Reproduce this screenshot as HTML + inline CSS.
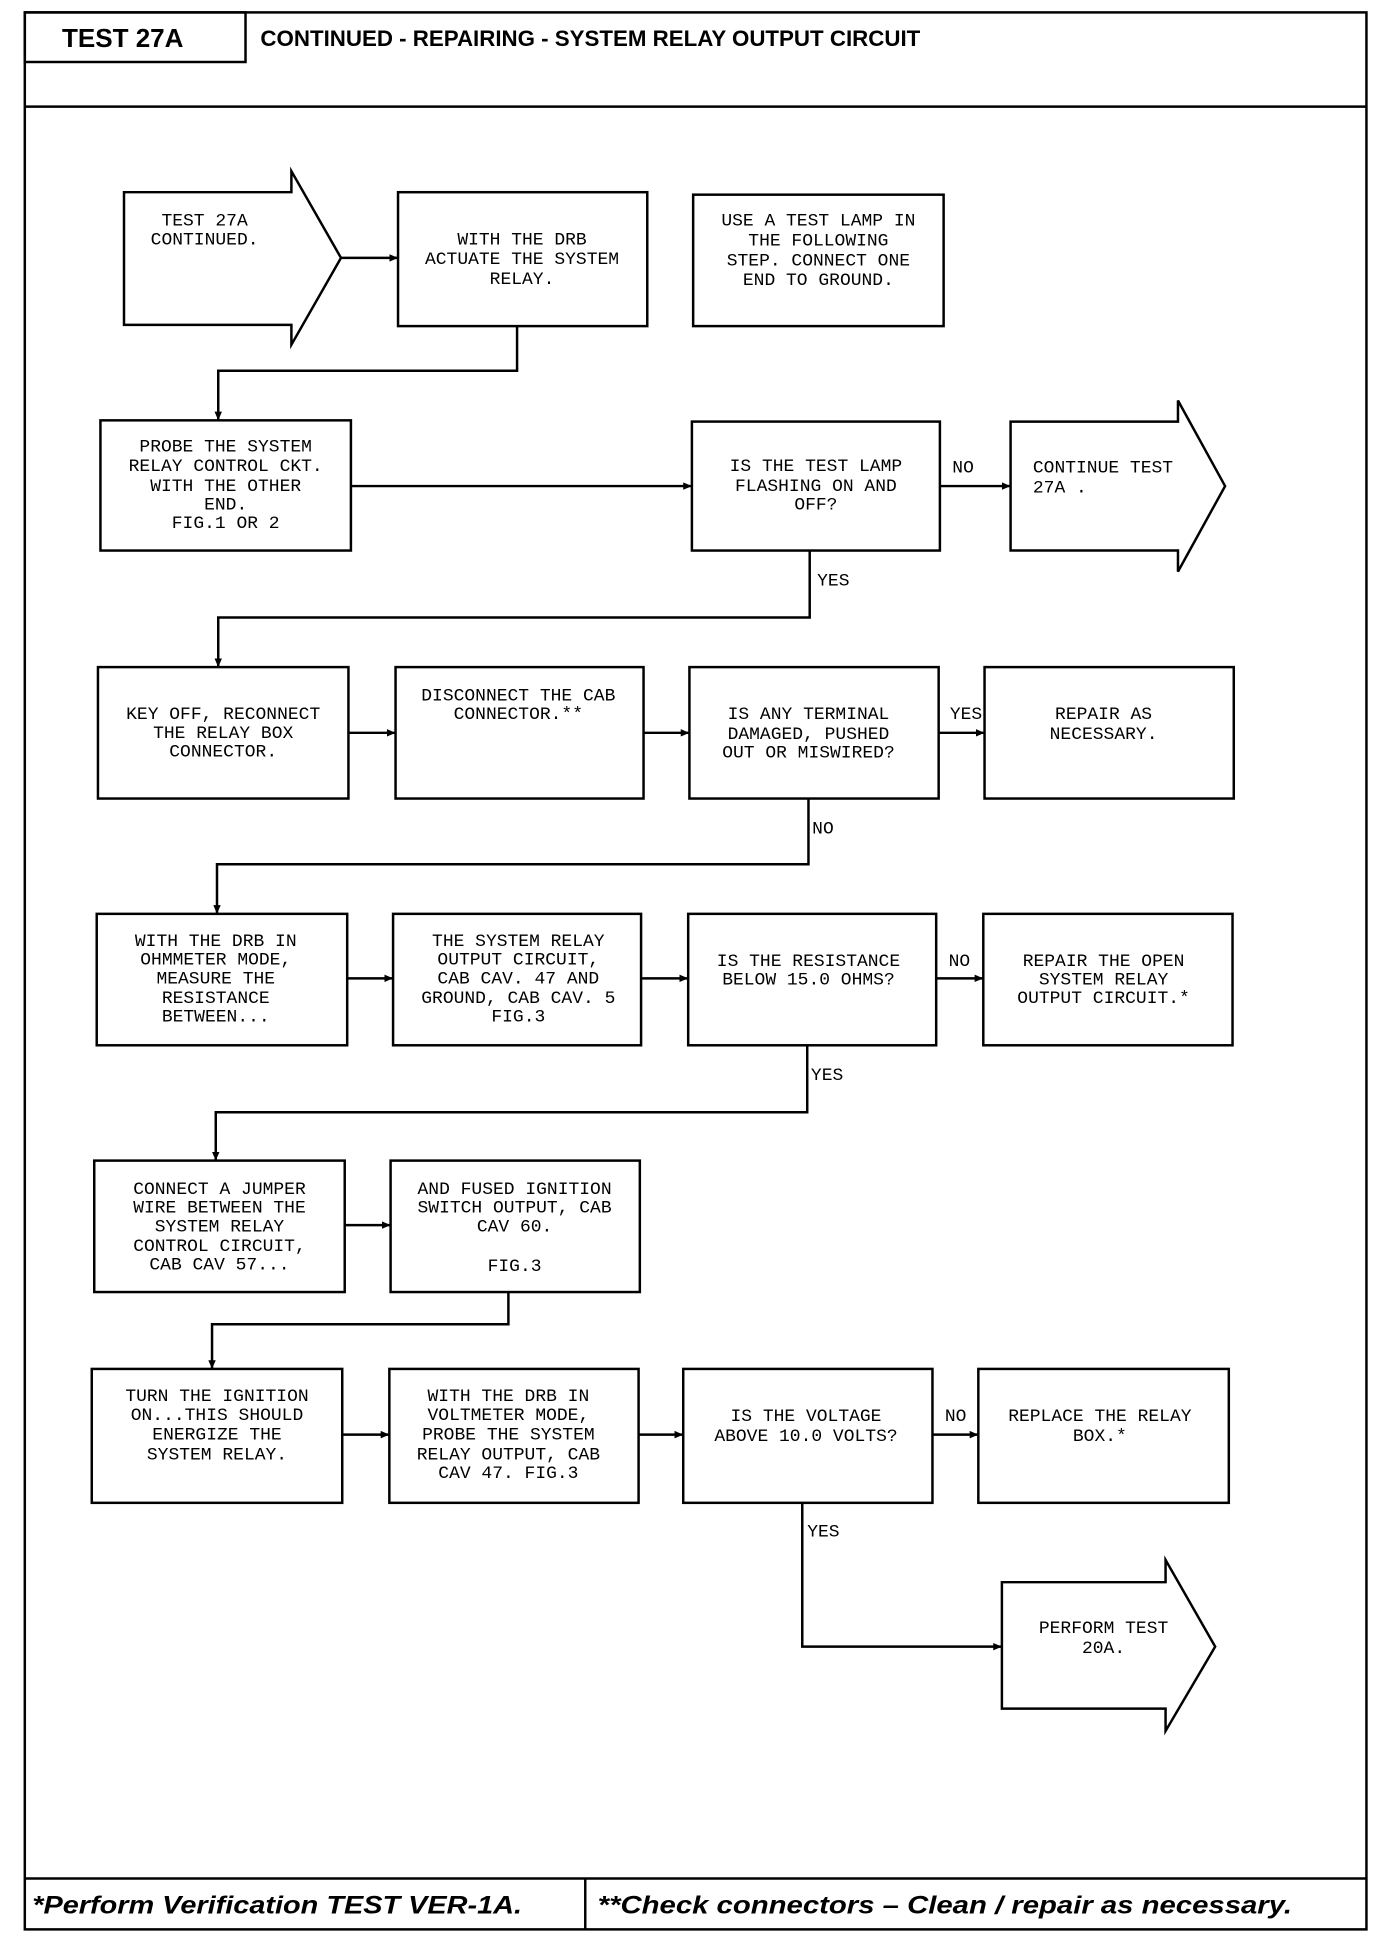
<!DOCTYPE html>
<html><head><meta charset="utf-8"><style>html,body{margin:0;padding:0;background:#fff}svg{display:block}</style></head>
<body>
<svg xmlns="http://www.w3.org/2000/svg" width="1376" height="1946" viewBox="0 0 1109.7 1569.4">
<defs><marker id="a" markerWidth="8" markerHeight="8" refX="7" refY="4" orient="auto" markerUnits="userSpaceOnUse"><path d="M0,1 L7,4 L0,7 z" fill="#000"/></marker></defs>
<g fill="none" stroke="#000" stroke-width="2">
<!-- frame -->
<rect x="20" y="10" width="1082" height="1546"/>
<line x1="20" y1="86" x2="1102" y2="86"/>
<rect x="20" y="10" width="178" height="40"/>
<line x1="20" y1="1515" x2="1102" y2="1515"/>
<line x1="472" y1="1515" x2="472" y2="1556"/>
<!-- row1 -->
<path d="M100,155 H235 V138 L275,208 L235,278 V262 H100 Z"/>
<rect x="321" y="155" width="201" height="108"/>
<rect x="559" y="157" width="202" height="106"/>
<line x1="275" y1="208" x2="321" y2="208" marker-end="url(#a)"/>
<polyline points="417,263 417,299 176,299 176,339" marker-end="url(#a)"/>
<!-- row2 -->
<rect x="81" y="339" width="202" height="105"/>
<rect x="558" y="340" width="200" height="104"/>
<path d="M815,340 H950 V323 L988,392 L950,461 V444 H815 Z"/>
<line x1="283" y1="392" x2="558" y2="392" marker-end="url(#a)"/>
<line x1="758" y1="392" x2="815" y2="392" marker-end="url(#a)"/>
<polyline points="653,444 653,498 176,498 176,538" marker-end="url(#a)"/>
<!-- row3 -->
<rect x="79" y="538" width="202" height="106"/>
<rect x="319" y="538" width="200" height="106"/>
<rect x="556" y="538" width="201" height="106"/>
<rect x="794" y="538" width="201" height="106"/>
<line x1="281" y1="591" x2="319" y2="591" marker-end="url(#a)"/>
<line x1="519" y1="591" x2="556" y2="591" marker-end="url(#a)"/>
<line x1="757" y1="591" x2="794" y2="591" marker-end="url(#a)"/>
<polyline points="652,644 652,697 175,697 175,737" marker-end="url(#a)"/>
<!-- row4 -->
<rect x="78" y="737" width="202" height="106"/>
<rect x="317" y="737" width="200" height="106"/>
<rect x="555" y="737" width="200" height="106"/>
<rect x="793" y="737" width="201" height="106"/>
<line x1="280" y1="789" x2="317" y2="789" marker-end="url(#a)"/>
<line x1="517" y1="789" x2="555" y2="789" marker-end="url(#a)"/>
<line x1="755" y1="789" x2="793" y2="789" marker-end="url(#a)"/>
<polyline points="651,843 651,897 174,897 174,936" marker-end="url(#a)"/>
<!-- row5 -->
<rect x="76" y="936" width="202" height="106"/>
<rect x="315" y="936" width="201" height="106"/>
<line x1="278" y1="988" x2="315" y2="988" marker-end="url(#a)"/>
<polyline points="410,1042 410,1068 171,1068 171,1104" marker-end="url(#a)"/>
<!-- row6 -->
<rect x="74" y="1104" width="202" height="108"/>
<rect x="314" y="1104" width="201" height="108"/>
<rect x="551" y="1104" width="201" height="108"/>
<rect x="789" y="1104" width="202" height="108"/>
<line x1="276" y1="1157" x2="314" y2="1157" marker-end="url(#a)"/>
<line x1="515" y1="1157" x2="551" y2="1157" marker-end="url(#a)"/>
<line x1="752" y1="1157" x2="789" y2="1157" marker-end="url(#a)"/>
<polyline points="647,1212 647,1328 808,1328" marker-end="url(#a)"/>
<path d="M808,1276 H940 V1258 L980,1328 L940,1396 V1378 H808 Z"/>
</g>
<g font-family="Liberation Sans, sans-serif" font-weight="bold" fill="#000">
<text x="50" y="38" font-size="21">TEST 27A</text>
<text x="210" y="37" font-size="18">CONTINUED - REPAIRING - SYSTEM RELAY OUTPUT CIRCUIT</text>
<g font-style="italic" font-size="20">
<text x="26" y="1543" textLength="395" lengthAdjust="spacingAndGlyphs">*Perform Verification TEST VER-1A.</text>
<text x="482" y="1543" textLength="560" lengthAdjust="spacingAndGlyphs">**Check connectors – Clean / repair as necessary.</text>
</g>
</g>
<g font-family="Liberation Mono, monospace" font-size="14.5" fill="#000" text-anchor="middle">
<text x="165" y="182">TEST 27A</text><text x="165" y="197">CONTINUED.</text>
<text x="421" y="197">WITH THE DRB</text><text x="421" y="213">ACTUATE THE SYSTEM</text><text x="421" y="229">RELAY.</text>
<text x="660" y="182">USE A TEST LAMP IN</text><text x="660" y="198">THE FOLLOWING</text><text x="660" y="214">STEP. CONNECT ONE</text><text x="660" y="230">END TO GROUND.</text>
<text x="182" y="364">PROBE THE SYSTEM</text><text x="182" y="380">RELAY CONTROL CKT.</text><text x="182" y="396">WITH THE OTHER</text><text x="182" y="411">END.</text><text x="182" y="426">FIG.1 OR 2</text>
<text x="658" y="380">IS THE TEST LAMP</text><text x="658" y="396">FLASHING ON AND</text><text x="658" y="411">OFF?</text>
<text x="833" y="381" text-anchor="start">CONTINUE TEST</text><text x="833" y="397" text-anchor="start">27A .</text>
<text x="180" y="580">KEY OFF, RECONNECT</text><text x="180" y="595">THE RELAY BOX</text><text x="180" y="610">CONNECTOR.</text>
<text x="418" y="565">DISCONNECT THE CAB</text><text x="418" y="580">CONNECTOR.**</text>
<text x="652" y="580">IS ANY TERMINAL</text><text x="652" y="596">DAMAGED, PUSHED</text><text x="652" y="611">OUT OR MISWIRED?</text>
<text x="890" y="580">REPAIR AS</text><text x="890" y="596">NECESSARY.</text>
<text x="174" y="763">WITH THE DRB IN</text><text x="174" y="778">OHMMETER MODE,</text><text x="174" y="793">MEASURE THE</text><text x="174" y="809">RESISTANCE</text><text x="174" y="824">BETWEEN...</text>
<text x="418" y="763">THE SYSTEM RELAY</text><text x="418" y="778">OUTPUT CIRCUIT,</text><text x="418" y="793">CAB CAV. 47 AND</text><text x="418" y="809">GROUND, CAB CAV. 5</text><text x="418" y="824">FIG.3</text>
<text x="652" y="779">IS THE RESISTANCE</text><text x="652" y="794">BELOW 15.0 OHMS?</text>
<text x="890" y="779">REPAIR THE OPEN</text><text x="890" y="794">SYSTEM RELAY</text><text x="890" y="809">OUTPUT CIRCUIT.*</text>
<text x="177" y="963">CONNECT A JUMPER</text><text x="177" y="978">WIRE BETWEEN THE</text><text x="177" y="993">SYSTEM RELAY</text><text x="177" y="1009">CONTROL CIRCUIT,</text><text x="177" y="1024">CAB CAV 57...</text>
<text x="415" y="963">AND FUSED IGNITION</text><text x="415" y="978">SWITCH OUTPUT, CAB</text><text x="415" y="993">CAV 60.</text><text x="415" y="1025">FIG.3</text>
<text x="175" y="1130">TURN THE IGNITION</text><text x="175" y="1145">ON...THIS SHOULD</text><text x="175" y="1161">ENERGIZE THE</text><text x="175" y="1177">SYSTEM RELAY.</text>
<text x="410" y="1130">WITH THE DRB IN</text><text x="410" y="1145">VOLTMETER MODE,</text><text x="410" y="1161">PROBE THE SYSTEM</text><text x="410" y="1177">RELAY OUTPUT, CAB</text><text x="410" y="1192">CAV 47. FIG.3</text>
<text x="650" y="1146">IS THE VOLTAGE</text><text x="650" y="1162">ABOVE 10.0 VOLTS?</text>
<text x="887" y="1146">REPLACE THE RELAY</text><text x="887" y="1162">BOX.*</text>
<text x="890" y="1317">PERFORM TEST</text><text x="890" y="1333">20A.</text>
<g text-anchor="start">
<text x="768" y="381">NO</text><text x="659" y="472">YES</text>
<text x="766" y="580">YES</text><text x="655" y="672">NO</text>
<text x="765" y="779">NO</text><text x="654" y="871">YES</text>
<text x="762" y="1146">NO</text><text x="651" y="1239">YES</text>
</g>
</g>
</svg>
</body></html>
